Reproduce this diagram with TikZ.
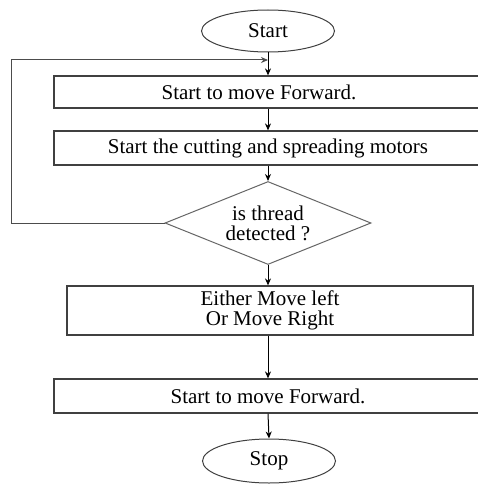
\documentclass[tikz,border=0pt]{standalone}
\usepackage{fontspec}
\setmainfont{Liberation Serif}
\usetikzlibrary{shapes.geometric,arrows.meta}
\begin{document}
\begin{tikzpicture}[x=1pt,y=-1pt,
  every node/.style={font=\fontsize{21}{20}\selectfont, text=black},
  proc/.style={draw=black!75, line width=1.2pt, rectangle, inner sep=0pt, align=center},
  term/.style={draw=black!75, line width=1pt, ellipse, inner sep=0pt, minimum width=133pt, minimum height=42pt},
  dec/.style={draw=black!60, line width=1pt, diamond, inner sep=0pt, minimum width=206pt, minimum height=83pt, aspect=2.48, align=center},
  flow/.style={draw=black, line width=1pt, -{Stealth[length=7pt,width=6pt]}},
  loopline/.style={draw=black!70, line width=1pt, -{Stealth[length=7pt,width=6pt]}}]
\useasboundingbox (0,0) rectangle (478,484);
\clip (0,0) rectangle (478,484);
\fill[white] (0,0) rectangle (478,484);
\node[term] (start) at (268,31) {Start};
\node[proc, minimum width=428pt, minimum height=32pt] (b1) at (268,92) {\hspace*{-18pt}Start to move Forward.};
\node[proc, minimum width=428pt, minimum height=34pt] (b2) at (268,148) {Start the cutting and spreading motors};
\node[dec] (dec) at (268,223) {is thread\\detected ?};
\node[proc, minimum width=406pt, minimum height=49pt] (b3) at (270,310.5) {Either Move left\\Or Move Right};
\node[proc, minimum width=428pt, minimum height=34pt] (b4) at (268,396) {Start to move Forward.};
\node[term, minimum height=44pt] (stop) at (269,461) {Stop};
\coordinate (lc) at (11,223);
\coordinate (lj) at (268,60);
\draw[flow] (start.south) -- (b1.north);
\draw[flow] (b1.south) -- (b2.north);
\draw[flow] (b2.south) -- (dec.north);
\draw[flow] (dec.south) -- (dec.south |- b3.north);
\draw[flow] (b3.south -| b4.north) -- (b4.north);
\draw[flow] (b4.south) -- (stop.north);
\draw[loopline] (dec.west) -- (lc) |- (lj);
\end{tikzpicture}
\end{document}
